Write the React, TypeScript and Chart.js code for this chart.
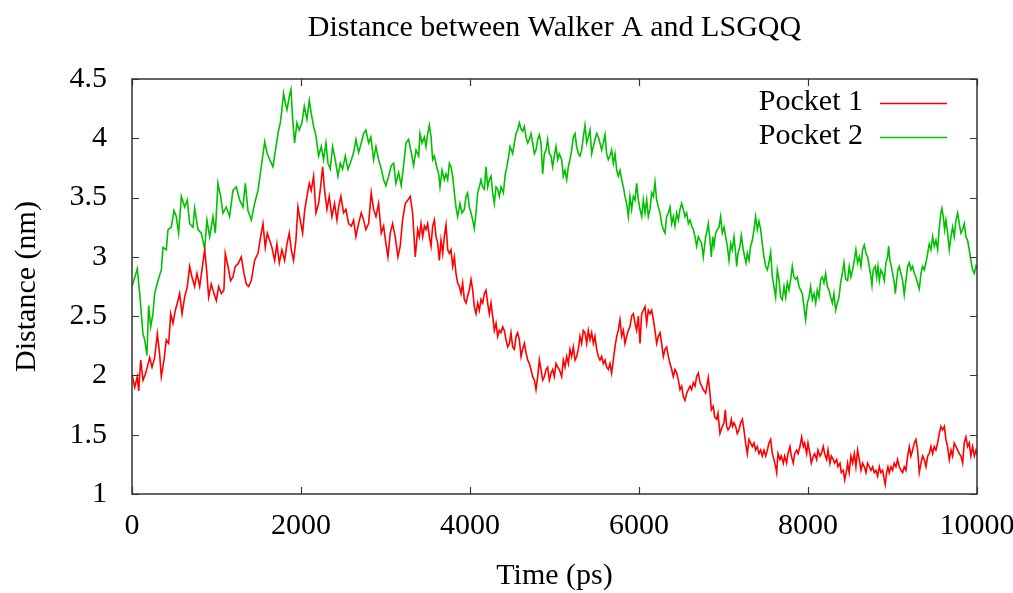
import React, { useEffect, useRef } from "react";
import { Chart, registerables } from "chart.js";

Chart.register(...registerables);

const TITLE = "Distance between Walker A and LSGQQ";
const X_LABEL = "Time (ps)";
const Y_LABEL = "Distance (nm)";
const SERIES_NAMES = ["Pocket 1", "Pocket 2"];
const X_TICKS = [0, 2000, 4000, 6000, 8000, 10000];
const Y_TICKS = [1, 1.5, 2, 2.5, 3, 3.5, 4, 4.5];

// [time (ps), distance (nm)]
const pocket1Points: [number, number][] = [
  [0,2.01],[32,1.90],[63,1.99],[79,1.87],[103,2.13],[130,1.96],[158,2.01],[181,2.07],[209,2.15],[237,2.07],[268,2.15],[300,2.35],[327,2.18],[347,1.99],[379,2.13],[406,2.30],[434,2.27],[458,2.52],[485,2.44],[513,2.55],[544,2.63],[564,2.69],[592,2.52],[623,2.66],[655,2.75],[682,2.92],[710,2.83],[741,2.75],[769,2.86],[801,2.75],[828,2.89],[860,3.06],[883,2.89],[907,2.66],[938,2.77],[970,2.69],[998,2.63],[1025,2.75],[1057,2.69],[1088,2.72],[1104,3.03],[1136,2.92],[1167,2.80],[1195,2.83],[1222,2.92],[1254,2.94],[1293,3.00],[1325,2.86],[1353,2.77],[1380,2.75],[1412,2.80],[1451,2.97],[1491,3.03],[1522,3.17],[1550,3.28],[1577,3.08],[1601,3.20],[1629,3.14],[1656,3.08],[1688,2.97],
  [1715,3.11],[1743,2.95],[1774,3.06],[1806,2.97],[1834,3.11],[1861,3.20],[1885,3.06],[1912,2.97],[1940,3.14],[1964,3.42],[1991,3.31],[2019,3.20],[2043,3.39],[2070,3.51],[2098,3.62],[2121,3.56],[2149,3.68],[2177,3.37],[2208,3.45],[2232,3.59],[2256,3.76],[2279,3.56],[2307,3.40],[2334,3.51],[2366,3.34],[2397,3.45],[2425,3.31],[2445,3.42],[2472,3.51],[2504,3.37],[2532,3.40],[2563,3.28],[2595,3.26],[2622,3.31],[2650,3.17],[2682,3.28],[2713,3.37],[2741,3.31],[2768,3.23],[2800,3.28],[2831,3.54],[2859,3.40],[2887,3.34],[2918,3.45],[2950,3.20],[2978,3.26],[3005,3.11],[3029,3.00],[3056,3.20],[3084,3.28],[3115,3.17],[3147,3.00],[3174,3.09],[3202,3.31],[3234,3.45],[3265,3.48],[3293,3.51],[3321,3.37],[3352,3.00],
  [3381,3.23],[3400,3.17],[3420,3.28],[3440,3.17],[3460,3.26],[3479,3.23],[3499,3.28],[3519,3.17],[3539,3.09],[3558,3.26],[3578,3.31],[3598,3.17],[3617,3.12],[3637,2.97],[3657,3.14],[3677,3.03],[3696,3.17],[3716,3.27],[3736,3.06],[3756,3.03],[3775,3.06],[3795,2.92],[3815,3.00],[3834,2.86],[3854,2.78],[3874,2.75],[3894,2.69],[3913,2.78],[3933,2.64],[3953,2.61],[3972,2.67],[3992,2.72],[4012,2.81],[4032,2.72],[4051,2.58],[4071,2.52],[4091,2.61],[4111,2.55],[4130,2.64],[4150,2.61],[4170,2.69],[4189,2.72],[4209,2.61],[4229,2.52],[4249,2.61],[4268,2.50],[4288,2.38],[4308,2.44],[4328,2.33],[4347,2.38],[4367,2.36],[4387,2.41],[4406,2.38],[4426,2.30],[4446,2.24],[4466,2.27],[4485,2.36],[4505,2.24],[4525,2.22],[4545,2.33],[4564,2.36],[4584,2.30],[4604,2.16],[4623,2.22],[4643,2.27],[4663,2.19],[4683,2.13],[4702,2.10],[4722,2.05],[4742,1.99],[4762,1.96],[4781,1.88],[4801,1.99],[4821,2.13],[4840,2.05],[4860,1.96],[4880,1.99],[4900,2.05],[4919,2.07],[4939,1.96],[4959,2.02],[4978,2.05],[4998,1.99],[5018,2.10],[5038,2.07],[5057,2.05],
  [5085,1.99],[5104,2.13],[5124,2.07],[5144,2.16],[5164,2.10],[5183,2.22],[5203,2.16],[5223,2.24],[5243,2.13],[5262,2.16],[5282,2.22],[5302,2.33],[5321,2.27],[5341,2.38],[5361,2.36],[5381,2.27],[5400,2.38],[5420,2.30],[5440,2.36],[5460,2.27],[5479,2.33],[5499,2.22],[5519,2.16],[5538,2.13],[5558,2.16],[5578,2.10],[5598,2.13],[5617,2.07],[5637,2.05],[5657,2.10],[5676,2.02],[5696,2.13],[5716,2.24],[5736,2.33],[5755,2.38],[5775,2.47],[5795,2.33],[5815,2.38],[5834,2.27],[5854,2.33],[5874,2.38],[5893,2.41],[5913,2.50],[5933,2.52],[5953,2.44],[5972,2.38],[5992,2.50],[6012,2.27],[6032,2.52],[6051,2.55],[6071,2.58],[6091,2.44],[6110,2.55],[6130,2.52],[6150,2.55],[6170,2.47],[6189,2.38],[6209,2.27],[6229,2.33],[6249,2.36],[6268,2.27],[6288,2.16],[6308,2.22],[6327,2.24],[6347,2.16],[6367,2.10],[6387,2.05],[6406,1.99],[6426,2.05],[6446,2.02],[6466,1.96],[6485,1.88],[6505,1.91],[6525,1.82],[6544,1.79],[6564,1.85],[6584,1.88],[6604,1.91],[6623,1.88],[6643,1.94],[6663,1.91],[6682,1.99],[6702,2.02],[6722,1.94],[6742,1.91],[6761,1.88],
  [6789,1.85],[6808,1.93],[6820,1.98],[6840,1.85],[6856,1.71],[6879,1.74],[6895,1.65],[6919,1.63],[6935,1.68],[6958,1.51],[6986,1.57],[7006,1.60],[7021,1.71],[7037,1.57],[7053,1.54],[7077,1.57],[7092,1.63],[7108,1.57],[7124,1.60],[7144,1.57],[7163,1.51],[7183,1.54],[7203,1.60],[7223,1.63],[7242,1.54],[7262,1.43],[7282,1.34],[7302,1.46],[7321,1.43],[7341,1.40],[7361,1.43],[7380,1.37],[7400,1.40],[7420,1.34],[7440,1.37],[7459,1.32],[7479,1.37],[7499,1.32],[7519,1.37],[7538,1.43],[7558,1.46],[7578,1.34],[7597,1.29],[7617,1.23],[7629,1.18],[7645,1.34],[7668,1.29],[7684,1.32],[7708,1.26],[7724,1.32],[7747,1.26],[7763,1.34],[7787,1.40],[7803,1.32],[7826,1.26],[7842,1.34],[7866,1.37],[7882,1.34],[7905,1.40],[7925,1.48],[7945,1.40],[7960,1.43],[7984,1.34],[8000,1.43],[8023,1.34],[8039,1.26],[8063,1.32],[8079,1.34],[8102,1.29],[8118,1.37],[8142,1.32],[8158,1.34],[8181,1.40],[8197,1.34],[8221,1.29],[8237,1.37],[8260,1.26],[8276,1.32],[8300,1.29],[8315,1.26],[8339,1.29],[8355,1.23],[8379,1.26],[8394,1.18],[8418,1.20],[8434,1.12],[8457,1.20],
  [8469,1.26],[8488,1.18],[8508,1.32],[8528,1.26],[8548,1.34],[8567,1.23],[8587,1.37],[8607,1.29],[8627,1.20],[8646,1.26],[8666,1.23],[8686,1.18],[8705,1.26],[8725,1.23],[8745,1.20],[8765,1.23],[8784,1.18],[8804,1.20],[8824,1.15],[8844,1.23],[8863,1.18],[8883,1.20],[8903,1.12],[8914,1.08],[8930,1.18],[8946,1.23],[8962,1.18],[8982,1.23],[9001,1.20],[9021,1.26],[9041,1.23],[9060,1.29],[9080,1.23],[9100,1.20],[9120,1.18],[9139,1.23],[9159,1.20],[9179,1.32],[9199,1.40],[9218,1.32],[9238,1.37],[9258,1.43],[9277,1.46],[9297,1.37],[9317,1.18],[9337,1.26],[9356,1.32],[9376,1.29],[9396,1.23],[9416,1.32],[9435,1.34],[9455,1.40],[9475,1.34],[9494,1.40],[9514,1.37],[9534,1.43],[9554,1.51],[9573,1.57],[9593,1.54],[9613,1.57],[9632,1.46],[9652,1.40],[9672,1.29],[9692,1.37],[9711,1.32],[9731,1.43],[9751,1.40],[9771,1.37],[9790,1.34],[9810,1.32],[9830,1.26],[9849,1.43],[9869,1.48],[9889,1.40],[9908,1.43],[9928,1.32],[9948,1.40],[9968,1.32],[9988,1.37],[10000,1.33],
];

const pocket2Points: [number, number][] = [
  [0,2.75],[63,2.90],[91,2.69],[110,2.52],[130,2.35],[150,2.30],[177,2.17],[197,2.59],[221,2.41],[248,2.52],[268,2.69],[308,2.80],[347,2.89],[367,3.08],[406,3.06],[426,3.23],[465,3.25],[497,3.39],[524,3.34],[552,3.20],[584,3.51],[623,3.42],[655,3.48],[682,3.28],[722,3.25],[741,3.41],[781,3.23],[820,3.20],[860,3.07],[887,3.31],[919,3.17],[958,3.34],[986,3.20],[1017,3.62],[1049,3.51],[1076,3.37],[1116,3.42],[1155,3.34],[1195,3.56],[1234,3.59],[1274,3.48],[1313,3.42],[1341,3.62],[1372,3.39],[1412,3.31],[1451,3.45],[1491,3.56],[1530,3.76],[1570,3.97],[1601,3.87],[1629,3.82],[1668,3.76],
  [1704,3.93],[1735,4.07],[1755,4.13],[1774,4.24],[1794,4.38],[1814,4.30],[1834,4.24],[1861,4.35],[1881,4.41],[1900,4.18],[1924,3.96],[1952,4.13],[1979,4.07],[2011,4.13],[2039,4.27],[2070,4.16],[2098,4.32],[2121,4.21],[2149,4.10],[2177,4.02],[2208,3.85],[2240,3.93],[2267,3.82],[2295,3.96],[2319,3.79],[2346,3.74],[2374,3.93],[2405,3.82],[2437,3.68],[2465,3.79],[2492,3.74],[2524,3.85],[2555,3.74],[2583,3.79],[2623,3.88],[2650,3.99],[2682,3.88],[2713,3.96],[2741,4.04],[2768,4.07],[2800,3.96],[2827,4.01],[2859,3.82],[2887,3.93],[2918,3.82],[2950,3.74],[2978,3.65],[3005,3.60],[3037,3.68],[3068,3.77],[3096,3.79],[3123,3.62],[3155,3.71],[3186,3.60],[3214,3.77],[3242,3.96],[3273,3.99],[3305,3.88],[3333,3.77],
  [3361,3.90],[3393,3.85],[3408,4.04],[3432,3.96],[3460,4.01],[3479,3.93],[3499,4.04],[3519,4.11],[3539,4.01],[3558,3.82],[3578,3.85],[3606,3.76],[3629,3.70],[3645,3.59],[3669,3.73],[3696,3.65],[3716,3.70],[3736,3.65],[3756,3.79],[3775,3.76],[3795,3.68],[3815,3.54],[3834,3.42],[3854,3.34],[3882,3.45],[3905,3.37],[3933,3.40],[3953,3.51],[3972,3.54],[3992,3.42],[4012,3.37],[4032,3.31],[4051,3.24],[4071,3.37],[4091,3.54],[4111,3.59],[4130,3.65],[4150,3.59],[4170,3.57],[4189,3.76],[4209,3.59],[4229,3.65],[4249,3.68],[4268,3.54],[4288,3.45],[4308,3.59],[4328,3.57],[4347,3.51],[4367,3.59],[4395,3.54],[4418,3.70],[4434,3.75],[4458,3.85],[4474,3.93],[4505,3.87],[4525,3.96],[4545,4.04],[4564,4.07],[4584,4.13],[4604,4.08],[4623,4.06],[4643,4.10],[4663,4.01],[4683,3.96],[4702,3.99],[4722,4.04],[4742,3.96],[4762,3.87],[4781,3.90],[4801,3.99],[4821,4.03],[4840,3.96],[4860,3.70],[4880,3.87],[4900,3.90],[4919,3.99],[4939,3.87],[4959,3.85],[4978,3.76],[4998,3.85],[5018,3.93],[5038,3.82],[5057,3.87],
  [5085,3.82],[5104,3.68],[5124,3.73],[5144,3.65],[5164,3.76],[5183,3.82],[5203,3.90],[5223,4.01],[5243,4.04],[5262,3.93],[5282,3.87],[5302,3.85],[5321,3.90],[5341,4.01],[5361,4.11],[5381,3.96],[5400,4.01],[5420,4.07],[5440,3.87],[5460,3.93],[5479,3.99],[5499,4.04],[5519,4.01],[5538,3.96],[5558,3.90],[5578,3.96],[5598,4.03],[5617,3.87],[5637,3.82],[5657,3.85],[5676,3.90],[5696,3.79],[5716,3.87],[5736,3.73],[5755,3.68],[5775,3.73],[5795,3.65],[5815,3.59],[5834,3.51],[5854,3.45],[5874,3.34],[5893,3.51],[5913,3.40],[5933,3.51],[5953,3.48],[5972,3.62],[5992,3.48],[6012,3.40],[6032,3.34],[6051,3.48],[6071,3.37],[6091,3.48],[6110,3.34],[6130,3.40],[6150,3.54],[6170,3.51],[6189,3.63],[6209,3.48],[6229,3.42],[6249,3.37],[6268,3.28],[6288,3.23],[6308,3.20],[6327,3.34],[6347,3.37],[6367,3.42],[6387,3.28],[6406,3.34],[6426,3.26],[6446,3.37],[6466,3.31],[6485,3.40],[6505,3.45],[6525,3.40],[6544,3.34],[6564,3.37],[6584,3.28],[6604,3.31],[6623,3.26],[6643,3.23],[6663,3.17],[6682,3.09],[6702,3.17],[6722,3.14],[6742,3.11],[6761,3.00],
  [6789,3.17],[6808,3.23],[6820,3.28],[6840,3.14],[6856,3.00],[6872,3.17],[6887,3.09],[6907,3.20],[6927,3.23],[6947,3.25],[6966,3.34],[6986,3.20],[7006,3.25],[7025,3.17],[7045,3.09],[7065,2.97],[7085,3.11],[7104,3.06],[7124,3.17],[7144,3.03],[7156,2.92],[7171,3.03],[7195,3.09],[7211,3.18],[7234,3.06],[7250,3.00],[7266,2.95],[7282,3.03],[7302,2.97],[7321,3.09],[7341,3.14],[7361,3.23],[7380,3.34],[7400,3.23],[7420,3.30],[7440,3.23],[7459,3.11],[7479,3.00],[7499,2.92],[7519,2.89],[7538,2.95],[7558,3.04],[7578,2.83],[7597,2.75],[7617,2.66],[7637,2.89],[7657,2.81],[7676,2.66],[7696,2.64],[7716,2.75],[7736,2.66],[7755,2.78],[7775,2.72],[7795,2.81],[7814,2.92],[7834,2.83],[7854,2.81],[7874,2.83],[7893,2.75],[7913,2.72],[7933,2.69],[7952,2.58],[7972,2.47],[7992,2.61],[8012,2.66],[8031,2.75],[8051,2.64],[8071,2.69],[8091,2.61],[8110,2.72],[8130,2.66],[8150,2.81],[8169,2.83],[8189,2.78],[8209,2.86],[8229,2.75],[8248,2.72],[8268,2.66],[8288,2.61],[8307,2.69],[8327,2.55],[8347,2.61],[8367,2.66],[8386,2.78],[8406,2.86],[8426,2.95],[8446,2.81],
  [8469,2.80],[8488,2.92],[8508,2.83],[8528,2.89],[8548,2.97],[8567,3.06],[8587,2.95],[8607,3.00],[8627,2.92],[8646,3.06],[8666,3.10],[8686,3.03],[8705,3.00],[8725,2.92],[8745,2.83],[8757,2.76],[8772,2.89],[8796,2.92],[8812,2.83],[8828,2.92],[8844,2.80],[8863,2.89],[8883,2.86],[8903,2.80],[8922,2.95],[8942,3.00],[8954,3.09],[8970,2.97],[8986,2.92],[9001,2.86],[9021,2.78],[9033,2.69],[9049,2.80],[9064,2.89],[9080,2.92],[9100,2.86],[9120,2.80],[9139,2.68],[9159,2.80],[9179,2.92],[9199,2.95],[9218,2.89],[9238,2.92],[9258,2.86],[9277,2.83],[9297,2.78],[9317,2.73],[9337,2.86],[9356,2.92],[9376,2.89],[9396,2.95],[9416,3.03],[9435,3.11],[9455,3.06],[9475,3.17],[9494,3.09],[9514,3.14],[9534,3.06],[9554,3.25],[9573,3.37],[9585,3.41],[9601,3.34],[9617,3.23],[9632,3.31],[9652,3.20],[9672,3.06],[9692,3.17],[9711,3.25],[9731,3.17],[9751,3.31],[9771,3.37],[9790,3.28],[9810,3.20],[9830,3.23],[9849,3.28],[9869,3.17],[9889,3.14],[9908,3.06],[9928,2.97],[9948,2.89],[9968,2.86],[9988,2.92],[10000,2.90],
];

const POCKET1_COLOR = "#ff0000";
const POCKET2_COLOR = "#00c000";
const FONT_FAMILY = '"Liberation Serif", "Times New Roman", serif';
const FONT_SIZE = 30;

const toXY = (pts: [number, number][]) => pts.map(([x, y]) => ({ x, y }));

const decorPlugin = {
  id: "decor",
  afterDraw(chart: any) {
    const { ctx, chartArea: a, scales } = chart;
    const xs = scales.x;
    const ys = scales.y;
    ctx.save();
    // frame
    ctx.strokeStyle = "#333333";
    ctx.lineWidth = 1.5;
    ctx.strokeRect(a.left, a.top, a.right - a.left, a.bottom - a.top);
    // inward ticks on all four sides
    ctx.lineWidth = 1.2;
    ctx.beginPath();
    const tl = 7;
    X_TICKS.forEach((v) => {
      const px = Math.round(xs.getPixelForValue(v)) + 0.5;
      ctx.moveTo(px, a.bottom);
      ctx.lineTo(px, a.bottom - tl);
      ctx.moveTo(px, a.top);
      ctx.lineTo(px, a.top + tl);
    });
    Y_TICKS.forEach((v) => {
      const py = Math.round(ys.getPixelForValue(v)) + 0.5;
      ctx.moveTo(a.left, py);
      ctx.lineTo(a.left + tl, py);
      ctx.moveTo(a.right, py);
      ctx.lineTo(a.right - tl, py);
    });
    ctx.stroke();

    // texts
    ctx.fillStyle = "#000";
    ctx.font = `${FONT_SIZE}px ${FONT_FAMILY}`;
    ctx.textAlign = "center";
    ctx.textBaseline = "alphabetic";
    const cx = (a.left + a.right) / 2;
    ctx.fillText(TITLE, cx, 36);
    ctx.fillText(X_LABEL, cx, 584);
    ctx.save();
    ctx.translate(35, (a.top + a.bottom) / 2);
    ctx.rotate(-Math.PI / 2);
    ctx.fillText(Y_LABEL, 0, 0);
    ctx.restore();

    // legend
    const entries = [
      { name: SERIES_NAMES[0], color: POCKET1_COLOR, base: 110, line: 103.5 },
      { name: SERIES_NAMES[1], color: POCKET2_COLOR, base: 144, line: 137.5 },
    ];
    ctx.textAlign = "right";
    entries.forEach((e) => {
      ctx.fillStyle = "#000";
      ctx.fillText(e.name, 863, e.base);
      ctx.beginPath();
      ctx.strokeStyle = e.color;
      ctx.lineWidth = 1.6;
      ctx.moveTo(880, e.line);
      ctx.lineTo(947, e.line);
      ctx.stroke();
    });
    ctx.restore();
  },
};

export default function App() {
  const ref = useRef<HTMLCanvasElement>(null);

  useEffect(() => {
    const canvas = ref.current;
    if (!canvas) return;
    const tickFont = { family: FONT_FAMILY, size: FONT_SIZE };
    const chart = new Chart(canvas, {
      type: "line",
      data: {
        datasets: [
          {
            label: SERIES_NAMES[0],
            data: toXY(pocket1Points),
            borderColor: POCKET1_COLOR,
            borderWidth: 1.6,
            pointRadius: 0,
            tension: 0,
            fill: false,
          },
          {
            label: SERIES_NAMES[1],
            data: toXY(pocket2Points),
            borderColor: POCKET2_COLOR,
            borderWidth: 1.6,
            pointRadius: 0,
            tension: 0,
            fill: false,
          },
        ],
      },
      options: {
        responsive: false,
        animation: false,
        events: [],
        layout: { padding: { top: 79, right: 36, left: 0, bottom: 0 } },
        plugins: {
          legend: { display: false },
          tooltip: { enabled: false },
          title: { display: false },
        },
        scales: {
          x: {
            type: "linear",
            min: 0,
            max: 10000,
            grid: { display: false, drawTicks: false },
            border: { display: false },
            afterBuildTicks: (s: any) => {
              s.ticks = X_TICKS.map((v) => ({ value: v }));
            },
            afterFit: (s: any) => {
              s.height = 99;
              s.paddingLeft = 0;
              s.paddingRight = 0;
            },
            ticks: {
              font: tickFont,
              color: "#000",
              padding: 14,
              maxRotation: 0,
              autoSkip: false,
              callback: (v: any) => String(v),
            },
          },
          y: {
            type: "linear",
            min: 1,
            max: 4.5,
            grid: { display: false, drawTicks: false },
            border: { display: false },
            afterBuildTicks: (s: any) => {
              s.ticks = Y_TICKS.map((v) => ({ value: v }));
            },
            afterFit: (s: any) => {
              s.width = 132;
            },
            ticks: {
              font: tickFont,
              color: "#000",
              padding: 25,
              autoSkip: false,
              callback: (v: any) => String(v),
            },
          },
        },
      },
      plugins: [decorPlugin],
    });
    return () => chart.destroy();
  }, []);

  return (
    <div style={{ position: "absolute", left: 0, top: 0, width: 1013, height: 593, background: "#fff" }}>
      <canvas ref={ref} width={1013} height={593} style={{ display: "block" }} />
    </div>
  );
}
